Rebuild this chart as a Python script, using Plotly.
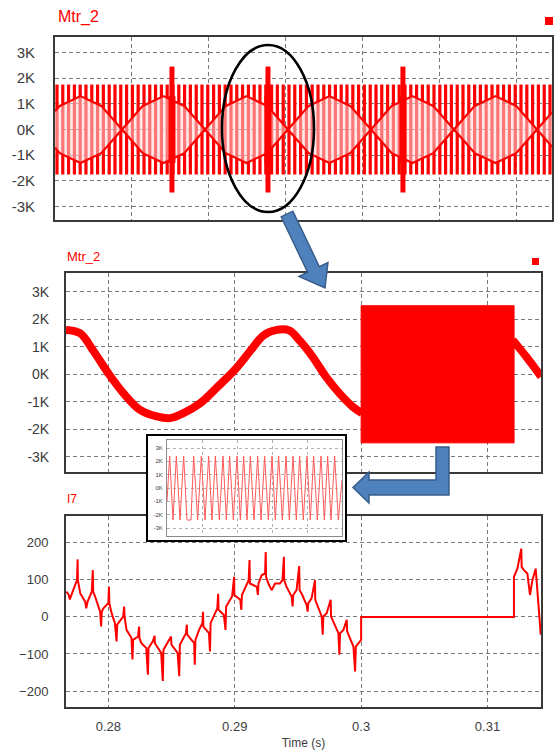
import math
import plotly.graph_objects as go

W, H = 558, 751
def fx(px): return px / W
def fy(py): return 1 - py / H

# ---------------- data ----------------
# Panel 1 (Mtr_2, long window) - time in ms (no tick labels shown)
top_bar_ms = [0.26, 1.01, 1.76, 2.52, 3.27, 4.02, 4.78, 5.53, 6.28, 7.04, 7.79, 8.54, 9.30, 10.05,
              10.80, 11.56, 12.31, 13.06, 13.82, 14.57, 15.32, 16.08, 16.83, 17.58, 18.34, 19.09,
              19.84, 20.60, 21.35, 22.10, 22.86, 23.61, 24.36, 25.12, 25.87, 26.62, 27.38, 28.13,
              28.88, 29.64, 30.39, 31.14, 31.90, 32.65, 33.40, 34.16, 34.91, 35.66, 36.42, 37.17,
              37.92, 38.68, 39.43, 40.18, 40.94, 41.69, 42.44, 43.20, 43.95, 44.70, 45.46, 46.21,
              46.96, 47.72, 48.47, 49.22, 49.98, 50.73, 51.48, 52.24, 52.99, 53.74, 54.50, 55.25,
              56.00, 56.76, 57.51, 58.26, 59.02, 59.77, 60.52, 61.28, 62.03, 62.78, 63.54, 64.29]
top_bar_hi = 1750
top_bar_lo = -1750
# inner (lighter) lens envelope of the PWM pattern
top_env_ms = [0.00, 0.62, 3.31, 6.01, 8.70, 11.40, 14.09, 16.79, 19.48, 22.18, 24.87, 27.56, 30.26,
              32.95, 35.65, 38.34, 41.04, 43.73, 46.43, 49.12, 51.82, 54.51, 57.21, 59.90, 62.60, 64.55]
top_env_hi = [710, 920, 1300, 920, 0, 920, 1300, 920, 0, 920, 1300, 920, 0,
              920, 1300, 920, 0, 920, 1300, 920, 0, 920, 1300, 920, 0, 665]
top_env_lo = [-710, -920, -1300, -920, 0, -920, -1300, -920, 0, -920, -1300, -920, 0,
              -920, -1300, -920, 0, -920, -1300, -920, 0, -920, -1300, -920, 0, -665]
top_spike_ms = [15.19, 27.66, 45.19]
top_spike_hi = 2450
top_spike_lo = -2450
top_spike_core_hi = 1300
top_spike_core_lo = -1300

# Panel 2 (Mtr_2, zoomed) - time in s
mid_t = [0.27665, 0.27776, 0.27881, 0.28000, 0.28119, 0.28251, 0.28383, 0.28489, 0.28594,
         0.28726, 0.28858, 0.29003, 0.29122, 0.29227, 0.29333, 0.29431, 0.29510, 0.29615,
         0.29721, 0.29827, 0.29932, 0.30006]
mid_v = [1620, 1500, 860, 40, -680, -1290, -1530, -1590, -1410,
         -1050, -480, 180, 850, 1420, 1620, 1600, 1250, 650,
         -80, -680, -1170, -1410]
mid_t_after = [0.31199, 0.31305, 0.31424]
mid_v_after = [1250, 650, -80]
block_t = [0.30000, 0.31210]
block_hi = 2500
block_lo = -2490

# Panel 3 (I7) - time in s
i7_t = [0.27668, 0.27687, 0.27695, 0.27721, 0.27752, 0.27757, 0.27759, 0.27778, 0.27804, 0.27817,
        0.27825, 0.27836, 0.27869, 0.27877, 0.27880, 0.27896, 0.27935, 0.27943, 0.27948, 0.27961,
        0.28000, 0.28005, 0.28008, 0.28026, 0.28052, 0.28065, 0.28070, 0.28117, 0.28125, 0.28128,
        0.28144, 0.28183, 0.28191, 0.28196, 0.28235, 0.28243, 0.28246, 0.28261, 0.28300, 0.28313,
        0.28318, 0.28352, 0.28366, 0.28368, 0.28418, 0.28431, 0.28436, 0.28483, 0.28496, 0.28499,
        0.28548, 0.28561, 0.28566, 0.28614, 0.28621, 0.28624, 0.28679, 0.28684, 0.28689, 0.28718,
        0.28744, 0.28749, 0.28752, 0.28796, 0.28804, 0.28809, 0.28862, 0.28869, 0.28872, 0.28914,
        0.28927, 0.28932, 0.28979, 0.28995, 0.28997, 0.29044, 0.29052, 0.29057, 0.29084, 0.29110,
        0.29117, 0.29120, 0.29175, 0.29183, 0.29188, 0.29214, 0.29240, 0.29245, 0.29248, 0.29266,
        0.29292, 0.29319, 0.29357, 0.29378, 0.29389, 0.29391, 0.29410, 0.29450, 0.29458, 0.29463,
        0.29489, 0.29510, 0.29513, 0.29529, 0.29569, 0.29577, 0.29582, 0.29608, 0.29635, 0.29637,
        0.29688, 0.29696, 0.29701, 0.29727, 0.29759, 0.29762, 0.29820, 0.29828, 0.29833, 0.29860,
        0.29886, 0.29889, 0.29939, 0.29952, 0.29958, 0.29979, 0.29995, 0.30000, 0.30000, 0.31209,
        0.31209, 0.31236, 0.31267, 0.31270, 0.31288, 0.31315, 0.31336, 0.31355, 0.31381, 0.31394,
        0.31408, 0.31421]
i7_v = [68, 59, 47, 72, 99, 155, 99, 63, 50, 41,
        23, 41, 68, 126, 68, 54, 14, -26, 14, 23,
        37, 81, 37, 10, -17, -66, -21, 1, 28, 1,
        -35, -57, -115, -62, -53, -26, -57, -71, -84, -156,
        -84, -66, -51, -71, -97, -173, -89, -62, -53, -75,
        -97, -160, -75, -44, -21, -48, -71, -129, -62, -35,
        -17, 14, -26, -44, -93, -17, 23, 62, 19, 5,
        -35, 28, 55, 108, 59, 46, 19, 59, 81, 99,
        153, 90, 81, 59, 90, 113, 117, 175, 108, 90,
        72, 90, 90, 99, 162, 99, 81, 55, 28, 59,
        72, 137, 72, 63, 32, 14, 37, 50, 99, 46,
        1, -48, 1, 10, 46, 1, -44, -102, -44, -35,
        -8, -39, -80, -147, -80, -71, -62, -62, 0, 0,
        108, 130, 184, 135, 126, 117, 59, 99, 130, 72,
        -8, -48]

# Inset (zoom of the switching block) - arbitrary time units
inset_t = [0, 0.076, 0.171, 0.267, 0.371, 0.476, 0.571, 0.686, 0.762, 0.876, 0.981, 1.086, 1.190,
           1.286, 1.381, 1.495, 1.600, 1.695, 1.790, 1.895, 2.000, 2.095, 2.190, 2.286, 2.381,
           2.486, 2.590, 2.686, 2.790, 2.895, 3.000, 3.095, 3.190, 3.295, 3.400, 3.495, 3.600,
           3.695, 3.790, 3.895, 4.000, 4.095, 4.190, 4.295, 4.400, 4.495, 4.590, 4.686, 4.790,
           4.895, 5.0]
inset_v = [-1000, 2400, -2400, 2400, -2400, 2400, -2400, -2400, 2400, -2400, 2400, -2400, 2400,
           -2400, 2400, -2400, 2400, -2400, 2400, -2400, 2400, -2400, 2400, -2400, 2400,
           -2400, 2400, -2400, 2400, -2400, 2400, -2400, 2400, -2400, 2400, -2400, 2400,
           -2400, 2400, -2400, 2400, -2400, 2400, -2400, 2400, -2400, 2400, -2400, 2400,
           -2400, 600]

k_vals = [-3000, -2000, -1000, 0, 1000, 2000, 3000]
k_text = ["-3K", "-2K", "-1K", "0K", "1K", "2K", "3K"]
i7_ticks = [-200, -100, 0, 100, 200]
time_ticks = [0.28, 0.29, 0.30, 0.31]
time_text = ["0.28", "0.29", "0.3", "0.31"]

# ---------------- figure ----------------
RED = "#ff0000"
fig = go.Figure()

# Panel 1: PWM bars, inner lighter lens, lens edges, spikes
bx, by = [], []
for t in top_bar_ms:
    bx += [t, t, None]
    by += [top_bar_lo, top_bar_hi, None]
fig.add_trace(go.Scatter(x=bx, y=by, mode="lines", line=dict(color=RED, width=3.2),
                         xaxis="x", yaxis="y", hoverinfo="skip"))
fig.add_trace(go.Scatter(x=top_env_ms + top_env_ms[::-1], y=top_env_hi + top_env_lo[::-1],
                         fill="toself", fillcolor="rgba(255,215,215,0.55)", line=dict(width=0),
                         mode="lines", xaxis="x", yaxis="y", hoverinfo="skip"))
fig.add_trace(go.Scatter(x=top_env_ms, y=top_env_hi, mode="lines", line=dict(color=RED, width=2.2),
                         xaxis="x", yaxis="y"))
fig.add_trace(go.Scatter(x=top_env_ms, y=top_env_lo, mode="lines", line=dict(color=RED, width=2.2),
                         xaxis="x", yaxis="y"))
sx, sy, cx, cy = [], [], [], []
for t in top_spike_ms:
    sx += [t, t, None]
    sy += [top_spike_lo, top_spike_hi, None]
    cx += [t, t, None]
    cy += [top_spike_core_lo, top_spike_core_hi, None]
fig.add_trace(go.Scatter(x=sx, y=sy, mode="lines", line=dict(color=RED, width=5),
                         xaxis="x", yaxis="y"))
fig.add_trace(go.Scatter(x=cx, y=cy, mode="lines", line=dict(color=RED, width=7),
                         xaxis="x", yaxis="y"))

# Panel 2
fig.add_trace(go.Scatter(x=mid_t, y=mid_v, mode="lines", line=dict(color=RED, width=8, shape="spline"),
                         xaxis="x2", yaxis="y2"))
fig.add_trace(go.Scatter(x=mid_t_after, y=mid_v_after, mode="lines",
                         line=dict(color=RED, width=8, shape="spline"), xaxis="x2", yaxis="y2"))
fig.add_trace(go.Scatter(
    x=[block_t[0], block_t[1], block_t[1], block_t[0], block_t[0]],
    y=[block_lo, block_lo, block_hi, block_hi, block_lo],
    fill="toself", fillcolor=RED, line=dict(color=RED, width=1), mode="lines",
    xaxis="x2", yaxis="y2"))

# Panel 3
fig.add_trace(go.Scatter(x=i7_t, y=i7_v, mode="lines", line=dict(color=RED, width=2),
                         xaxis="x3", yaxis="y3"))

# Inset frame background (x4/y4) and inset plot (x5/y5)
fig.add_trace(go.Scatter(x=[0.5], y=[0.5], mode="markers", marker=dict(size=1, opacity=0),
                         xaxis="x4", yaxis="y4", hoverinfo="skip"))
fig.add_trace(go.Scatter(x=inset_t, y=inset_v, mode="lines", line=dict(color="#ff5a5a", width=1),
                         xaxis="x5", yaxis="y5"))

def grid():
    return dict(showgrid=True, gridcolor="#7a7a7a", gridwidth=1.3, griddash="4px,3px", zeroline=False,
                showline=True, mirror=True, linecolor="#3a3a3a", linewidth=2, ticks="")
tickfont = dict(family="Liberation Sans, Arial, sans-serif", color="#3c3c3c")
frame = dict(range=[0, 1], showgrid=False, zeroline=False, showticklabels=False, showline=True,
             mirror=True, linecolor="black", linewidth=2, ticks="")
inset_grid = dict(showgrid=True, gridcolor="#b0b0b0", gridwidth=1, griddash="dot", zeroline=False,
                  showline=True, mirror=True, linecolor="#8a8a8a", linewidth=1, ticks="")

fig.update_layout(
    width=W, height=H, margin=dict(l=0, r=0, t=0, b=0),
    paper_bgcolor="white", plot_bgcolor="white", showlegend=False,
    xaxis=dict(domain=[fx(55), fx(552)], anchor="y", range=[0, 64.55], dtick=10, tick0=0,
               showticklabels=False, **grid()),
    yaxis=dict(domain=[fy(220), fy(37)], anchor="x", range=[-3520, 3600], tickvals=k_vals,
               ticktext=k_text, tickfont=dict(size=15, **tickfont), ticklabelstandoff=15, **grid()),
    xaxis2=dict(domain=[fx(66), fx(541)], anchor="y2", range=[0.27665, 0.31423], tickvals=time_ticks,
                showticklabels=False, **grid()),
    yaxis2=dict(domain=[fy(472), fy(273)], anchor="x2", range=[-3550, 3690], tickvals=k_vals,
                ticktext=k_text, tickfont=dict(size=14, **tickfont), ticklabelstandoff=12, **grid()),
    xaxis3=dict(domain=[fx(66), fx(541)], anchor="y3", range=[0.27665, 0.31423], tickvals=time_ticks,
                ticktext=time_text, tickfont=dict(size=13, **tickfont), ticklabelstandoff=6,
                title=dict(text="Time (s)", font=dict(size=12, **tickfont), standoff=6), **grid()),
    yaxis3=dict(domain=[fy(707), fy(516)], anchor="x3", range=[-243, 272], tickvals=i7_ticks,
                tickfont=dict(size=13, **tickfont), ticklabelstandoff=13, **grid()),
    xaxis4=dict(domain=[fx(148), fx(345)], anchor="y4", **frame),
    yaxis4=dict(domain=[fy(540), fy(436)], anchor="x4", **frame),
    xaxis5=dict(domain=[fx(167), fx(342)], anchor="y5", range=[0, 5], dtick=1, tick0=0,
                showticklabels=False, **inset_grid),
    yaxis5=dict(domain=[fy(536), fy(440)], anchor="x5", range=[-3600, 3600], tickvals=k_vals,
                ticktext=k_text, tickfont=dict(size=6, **tickfont), ticklabelstandoff=2, **inset_grid),
)

# titles
def title(text, px, py, size):
    fig.add_annotation(text=text, x=fx(px), y=fy(py), xref="paper", yref="paper",
                       xanchor="left", yanchor="middle", showarrow=False,
                       font=dict(family="Liberation Sans, Arial, sans-serif", size=size, color=RED))
title("Mtr_2", 56, 17, 16)
title("Mtr_2", 65, 257, 13)
title("I7", 65, 499, 12)

# legend squares
for (x0, y0, s) in [(545, 17, 8), (532, 258, 7)]:
    fig.add_shape(type="rect", xref="paper", yref="paper", x0=fx(x0), x1=fx(x0 + s),
                  y0=fy(y0 + s), y1=fy(y0), fillcolor=RED, line=dict(width=0))

# ellipse highlight
fig.add_shape(type="circle", xref="paper", yref="paper", x0=fx(222), x1=fx(314),
              y0=fy(212), y1=fy(45), line=dict(color="black", width=2.6), layer="above")

def path(pts):
    return "M " + " L ".join(f"{fx(a):.5f},{fy(b):.5f}" for a, b in pts) + " Z"

BLUE = "#4f81bd"
EDGE = "#385d8a"
# diagonal arrow
tail = (287, 214); base = (313.5, 269.5); tip = (325, 288)
dxv, dyv = base[0] - tail[0], base[1] - tail[1]
L = math.hypot(dxv, dyv); ux, uy = dxv / L, dyv / L; px_, py_ = -uy, ux
hw, hh = 6.5, 16
arrow1 = [(tail[0] + px_ * hw, tail[1] + py_ * hw), (base[0] + px_ * hw, base[1] + py_ * hw),
          (base[0] + px_ * hh, base[1] + py_ * hh), tip,
          (base[0] - px_ * hh, base[1] - py_ * hh), (base[0] - px_ * hw, base[1] - py_ * hw),
          (tail[0] - px_ * hw, tail[1] - py_ * hw)]
fig.add_shape(type="path", xref="paper", yref="paper", path=path(arrow1),
              fillcolor=BLUE, line=dict(color=EDGE, width=1.5), layer="above")
# bent arrow
arrow2 = [(436, 447), (449, 447), (449, 495), (369, 495), (369, 503), (353, 487.5),
          (369, 472), (369, 480), (436, 480)]
fig.add_shape(type="path", xref="paper", yref="paper", path=path(arrow2),
              fillcolor=BLUE, line=dict(color=EDGE, width=1.5), layer="above")

fig.write_html("out.html", config={"displayModeBar": False},
               post_script="document.body.style.margin='0';document.body.style.overflow='hidden';")
